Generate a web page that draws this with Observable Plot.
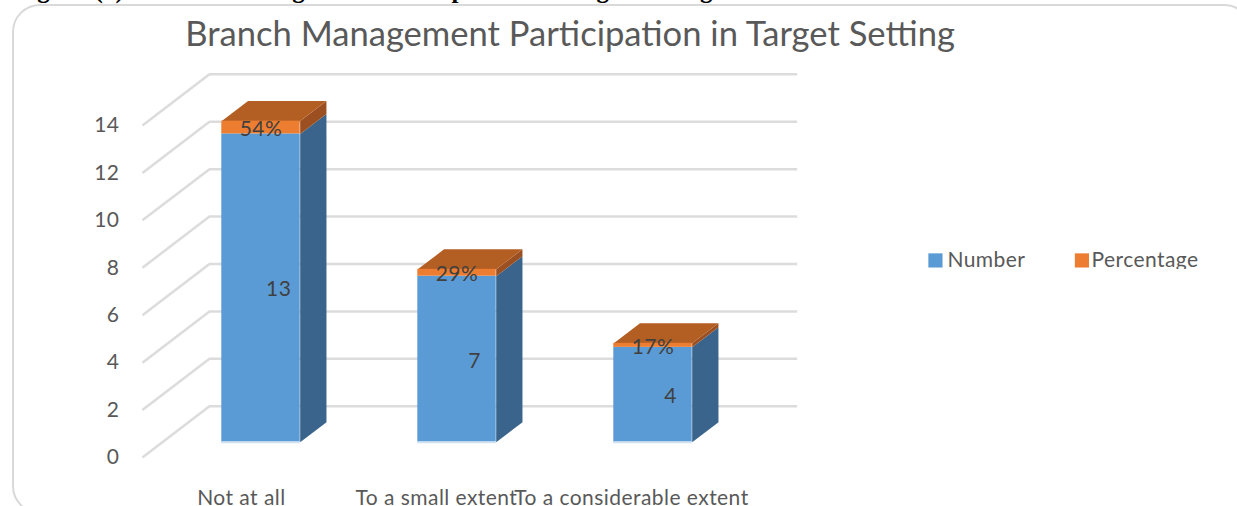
<!DOCTYPE html>
<html>
<head>
<meta charset="utf-8">
<script src="https://cdn.jsdelivr.net/npm/d3@7"></script>
<script src="https://cdn.jsdelivr.net/npm/@observablehq/plot@0.6"></script>
<style>
html,body{margin:0;padding:0;background:#fff;overflow:hidden;width:1237px;height:506px}
#wrap{position:relative;width:1237px;height:506px;overflow:hidden}
#border{position:absolute;left:12px;top:4px;width:1240px;height:510px;border:2.5px solid #d9d9d9;border-radius:28px;box-sizing:border-box}
#head{position:absolute;left:15px;top:-24px;font:bold 25px "Liberation Serif",serif;color:#000;white-space:nowrap;word-spacing:3px}
#chart{position:absolute;left:0;top:0}
#mask{position:absolute;left:1060px;top:269px;width:160px;height:10px;background:#fff}
svg{background:transparent!important}
svg text{letter-spacing:.45px}
svg .chart-title text{letter-spacing:0}
</style>
</head>
<body>
<div id="wrap">
<div id="head">Figure (1): Branch Management Participation in Target Setting</div>
<div id="border"></div>
<div id="chart"></div>
<div id="mask"></div>
</div>
<script>
const categories = ["Not at all", "To a small extent", "To a considerable extent"];
const numbers = [13, 7, 4];
const percentages = [0.54, 0.29, 0.17];
const percentLabels = ["54%", "29%", "17%"];
const seriesNames = ["Number", "Percentage"];
const seriesColors = ["#5b9bd5", "#ed7d31"];
const yTicks = [0, 2, 4, 6, 8, 10, 12, 14];

// 3-D projection, in scale units
const wallDx = 0.342, wallDy = 2.16;   // floor depth of the grid
const barHalf = 0.2;
const barY = 0.645;                    // bar front plane offset
const sideDx = 0.134, sideDy = 0.843;  // bar depth
const gridLeft = -0.605, gridRight = 2.738;

const polys = [];
categories.forEach((c, i) => {
  const x0 = i - barHalf, x1 = i + barHalf;
  const yb = barY, ym = barY + numbers[i], yt = ym + percentages[i];
  const add = (id, fill, pts) => pts.forEach(p => polys.push({id: id + i, fill, x: p[0], y: p[1]}));
  add("sideBlue", "#3a648c", [[x1, yb], [x1 + sideDx, yb + sideDy], [x1 + sideDx, ym + sideDy], [x1, ym]]);
  add("sideOrange", "#9c5021", [[x1, ym], [x1 + sideDx, ym + sideDy], [x1 + sideDx, yt + sideDy], [x1, yt]]);
  add("top", "#b35e22", [[x0, yt], [x1, yt], [x1 + sideDx, yt + sideDy], [x0 + sideDx, yt + sideDy]]);
});

const fronts = categories.flatMap((c, i) => [
  {i, series: seriesNames[0], y1: barY, y2: barY + numbers[i]},
  {i, series: seriesNames[1], y1: barY + numbers[i], y2: barY + numbers[i] + percentages[i]}
]);
const textFont = "Lato, 'Open Sans', sans-serif";

const plot = Plot.plot({
  width: 1237, height: 506,
  marginLeft: 122, marginRight: 0, marginTop: 0, marginBottom: 0,
  style: {background: "transparent", fontFamily: textFont},
  x: {domain: [-1, 3], range: [64.5, 848.5], axis: null},
  y: {domain: [0, 14], range: [457, 125], axis: null},
  color: {domain: seriesNames, range: seriesColors},
  marks: [
    Plot.ruleY(yTicks, {y: d => d + wallDy, x1: gridLeft + wallDx, x2: gridRight, stroke: "#dcdcdc", strokeWidth: 2.5}),
    Plot.link(yTicks, {x1: gridLeft, y1: d => d, x2: gridLeft + wallDx, y2: d => d + wallDy, stroke: "#dcdcdc", strokeWidth: 2.5}),
    Plot.line(polys, {x: "x", y: "y", z: "id", fill: "fill", stroke: null}),
    Plot.rect(fronts, {x1: d => d.i - barHalf, x2: d => d.i + barHalf, y1: "y1", y2: "y2", fill: "series"}),
    Plot.ruleY(categories.map((c, i) => i), {y: barY, x1: d => d - barHalf, x2: d => d + barHalf, stroke: "#cfe2f3", strokeWidth: 2}),
    Plot.axisY(yTicks, {anchor: "left", tickSize: 0, tickPadding: 3, label: null, fontSize: 21, fill: "#595959"}),
    Plot.text(categories, {x: (d, i) => i * 0.995 - 0.1, y: -1.7, text: d => d, fontSize: 21, fill: "#595959"}),
    Plot.text(numbers, {x: (d, i) => i + 0.09, y: d => barY + d / 2 - 0.07, text: d => String(d), fontSize: 21, fill: "#404040"}),
    Plot.text(percentLabels, {x: (d, i) => i, y: (d, i) => barY + numbers[i] + percentages[i] / 2 - 0.08, text: d => d, fontSize: 21, fill: "#404040"}),
    Plot.text(["Branch Management Participation in Target Setting"], {x: 1.577, y: 17.83, text: d => d, fontSize: 34.6, fill: "#595959", className: "chart-title"}),
    Plot.dot(seriesNames, {x: (d, i) => 3.441 + i * 0.7474, y: 8.31, symbol: "square", r: 8, fill: d => d, stroke: null}),
    Plot.text(seriesNames, {x: (d, i) => 3.502 + i * 0.735, y: 8.31, text: d => d, textAnchor: "start", fontSize: 21, fill: "#595959"})
  ]
});
document.getElementById("chart").appendChild(plot);
</script>
</body>
</html>
